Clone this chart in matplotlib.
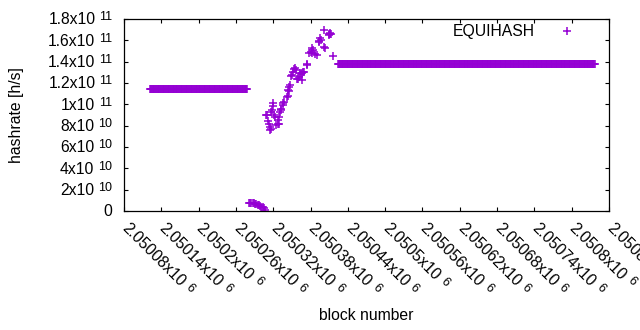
import numpy as np
import matplotlib
matplotlib.use("Agg")
import matplotlib.pyplot as plt
import matplotlib.transforms as mtransforms

plt.rcParams['font.family'] = ['Liberation Sans', 'DejaVu Sans']

# flat run before the drop
flat1_start, flat1_end, flat1_value = 2050122, 2050278, 1.14e11
# short run of near-zero values
low_blocks = [2050281, 2050283, 2050285, 2050287, 2050289, 2050291, 2050293,
              2050295, 2050297, 2050299, 2050301, 2050303, 2050305, 2050307]
low_values = [7.8e9, 7.7e9, 7.6e9, 7.4e9, 7.1e9, 6.8e9, 6.4e9,
              6.0e9, 5.5e9, 4.9e9, 4.2e9, 3.4e9, 2.4e9, 1.2e9]
# noisy recovery
scatter_blocks = [2050309, 2050310, 2050312, 2050313, 2050314, 2050315, 2050316, 2050317,
                  2050318, 2050319, 2050320, 2050322, 2050323, 2050325, 2050327, 2050328,
                  2050329, 2050330, 2050331, 2050332, 2050333, 2050335, 2050336, 2050337,
                  2050342, 2050343, 2050344, 2050345, 2050346, 2050347, 2050349, 2050350,
                  2050352, 2050353, 2050355, 2050356, 2050359, 2050360, 2050361, 2050363,
                  2050364, 2050366, 2050367, 2050368, 2050370, 2050374, 2050375, 2050378,
                  2050380, 2050382, 2050383, 2050384, 2050387, 2050390, 2050393, 2050394,
                  2050396, 2050397, 2050401, 2050402, 2050403, 2050409, 2050410, 2050411,
                  2050412, 2050413, 2050416]
scatter_values = [8.97, 9.0, 8.4, 8.2, 7.9, 7.6, 7.7, 9.3,
                  9.5, 10.1, 9.8, 9.0, 8.8, 8.05, 8.2, 8.5,
                  8.2, 8.8, 9.3, 9.5, 9.6, 9.9, 10.1, 10.2,
                  10.7, 10.8, 11.3, 11.25, 11.65, 11.8, 12.7, 12.75,
                  13.05, 13.3, 13.4, 13.2, 12.4, 12.4, 12.6, 12.9,
                  12.8, 12.3, 12.9, 13.05, 13.0, 13.8, 13.7, 14.8,
                  14.9, 14.8, 15.25, 15.1, 14.7, 14.6, 15.9, 15.8,
                  16.2, 16.0, 16.96, 15.4, 15.3, 16.6, 16.5, 16.7,
                  16.55, 16.6, 14.5]  # x 1e10
# flat run after recovery
flat2_start, flat2_end, flat2_value = 2050424, 2050837, 1.38e11

xtick_mant = ['2.05008', '2.05014', '2.0502', '2.05026', '2.05032', '2.05038', '2.05044',
              '2.0505', '2.05056', '2.05062', '2.05068', '2.05074', '2.0508', '2.05086']
xtick_exp = '6'
ytick_mant = ['0', '2', '4', '6', '8', '1', '1.2', '1.4', '1.6', '1.8']
ytick_exp = ['', '10', '10', '10', '10', '11', '11', '11', '11', '11']

blocks = np.concatenate([np.arange(flat1_start, flat1_end + 1), low_blocks, scatter_blocks,
                         np.arange(flat2_start, flat2_end + 1)])
values = np.concatenate([np.full(flat1_end - flat1_start + 1, flat1_value), low_values,
                         np.array(scatter_values) * 1e10,
                         np.full(flat2_end - flat2_start + 1, flat2_value)])

FS = 11.3
SFS = FS * 0.8

fig = plt.figure(figsize=(6.4, 3.3), dpi=100)
ax = fig.add_axes([124/640, 1 - 211/330, 485/640, 192/330])

ax.plot(blocks, values, '+', color='#9400d3', ms=5.5, mew=1.1, label='EQUIHASH')

xt = 2050080 + 60 * np.arange(len(xtick_mant))
ax.set_xlim(2050080, 2050860)
ax.set_ylim(0, 1.8e11)
ax.set_xticks(xt)
yt = 2e10 * np.arange(len(ytick_mant))
ax.set_yticks(yt)
ax.tick_params(direction='in', length=3, width=0.8, top=True, right=True,
               labelbottom=False, labelleft=False)
for s in ax.spines.values():
    s.set_linewidth(0.9)

renderer = fig.canvas.get_renderer()


def off(trans, dx, dy):
    return mtransforms.offset_copy(trans, fig=fig, x=dx, y=dy, units='dots')


# y tick labels, gnuplot style "1.8x10^11"
ytrans = mtransforms.blended_transform_factory(ax.transAxes, ax.transData)
for v, m, e in zip(yt, ytick_mant, ytick_exp):
    if e == '':
        ax.text(0, v, m, fontsize=FS, ha='right', va='baseline',
                transform=off(ytrans, -12, -5.5))
        continue
    te = ax.text(0, v, e, fontsize=SFS, ha='right', va='baseline',
                 transform=off(ytrans, -12, -1.2))
    w = te.get_window_extent(renderer).width
    ax.text(0, v, m + 'x10', fontsize=FS, ha='right', va='baseline',
            transform=off(ytrans, -12 - w - 3.5, -5.5))

# x tick labels, rotated by -45
xtrans = mtransforms.blended_transform_factory(ax.transData, ax.transAxes)
c = np.cos(np.radians(45))
x0, y0 = -3, -18
for v, m in zip(xt, xtick_mant):
    tm = ax.text(v, 0, m + 'x10', fontsize=FS, ha='left', va='baseline',
                 transform=off(xtrans, x0, y0))
    w = tm.get_window_extent(renderer).width
    tm.set_rotation(-45)
    tm.set_rotation_mode('anchor')
    along = w + 5
    raise_ = 4.3
    ax.text(v, 0, xtick_exp, fontsize=SFS, ha='left', va='baseline',
            rotation=-45, rotation_mode='anchor',
            transform=off(xtrans, x0 + along * c + raise_ * c, y0 - along * c + raise_ * c))

ax.set_xlabel('block number', fontsize=FS, va='center')
ax.xaxis.set_label_coords(0.5, (211 - 316) / 192)
ax.set_ylabel('hashrate [h/s]', fontsize=FS, va='center')
ax.yaxis.set_label_coords((16.5 - 124) / 485, 0.5)

ax.legend(loc='center right', bbox_to_anchor=(587/640, 1 - 31.5/330),
          bbox_transform=fig.transFigure, frameon=False, markerfirst=False,
          borderpad=0, borderaxespad=0, handlelength=2.5, handletextpad=0.8,
          fontsize=FS)

fig.savefig('out.png', dpi=100)
